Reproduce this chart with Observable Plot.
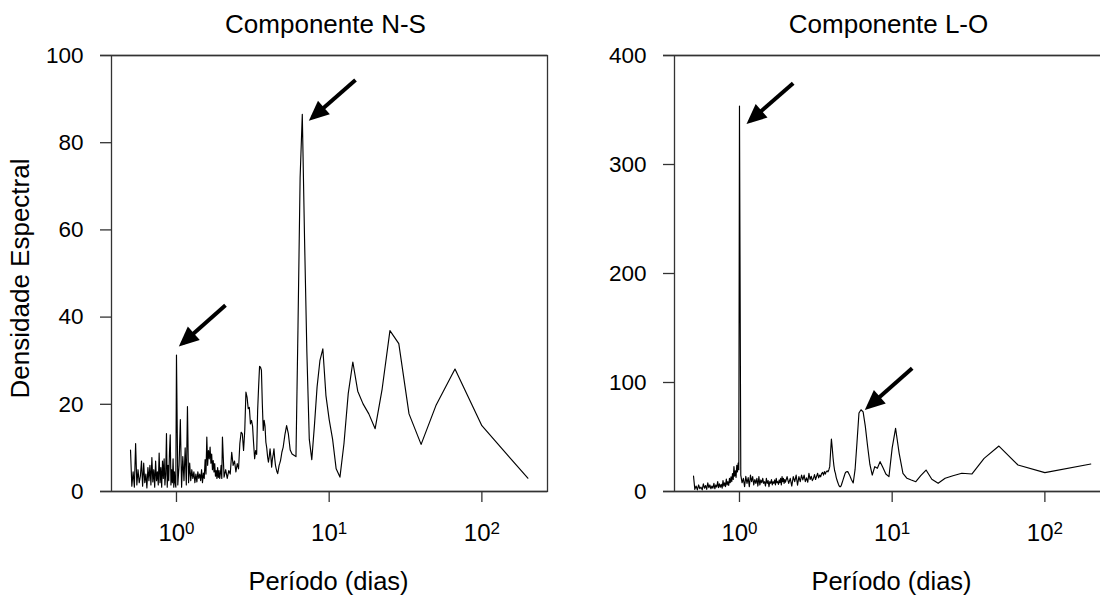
<!DOCTYPE html>
<html>
<head>
<meta charset="utf-8">
<script src="https://cdn.jsdelivr.net/npm/d3@7"></script>
<script src="https://cdn.jsdelivr.net/npm/@observablehq/plot@0.6"></script>
<style>
  html, body { margin: 0; padding: 0; background: #fff; overflow: hidden; }
  #wrap { position: relative; width: 1100px; height: 595px; overflow: hidden; background: #fff; }
  .panel { position: absolute; top: 0; width: 580px; height: 595px; }
  .panel svg { max-width: none !important; width: 580px; height: 595px; }
</style>
</head>
<body>
<div id="wrap"></div>
<script>
// Period (days) of each spectral estimate
const period = [
  0.50,0.51,0.52,0.53,0.54,0.55,0.56,0.57,0.58,0.59,
  0.60,0.61,0.62,0.63,0.64,0.65,0.66,0.67,0.68,0.69,
  0.70,0.71,0.72,0.73,0.74,0.75,0.76,0.77,0.78,0.79,
  0.80,0.81,0.82,0.83,0.84,0.85,0.86,0.87,0.88,0.89,
  0.90,0.91,0.92,0.93,0.94,0.95,0.96,0.97,0.98,0.99,
  1.00,
  1.02,1.04,1.06,1.08,1.10,1.12,1.14,1.16,1.18,1.20,
  1.22,1.24,1.26,1.28,1.30,1.32,1.34,1.36,1.38,1.40,
  1.42,1.44,1.46,1.48,1.50,1.52,1.54,1.56,1.58,1.60,
  1.62,1.64,1.66,1.68,1.70,1.72,1.74,1.76,1.78,1.80,
  1.82,1.84,1.86,1.88,1.90,1.92,1.94,1.96,1.98,2.00,
  2.05,2.10,2.15,2.20,2.25,2.30,2.35,2.40,2.45,2.50,
  2.55,2.60,2.65,2.70,2.75,2.80,2.85,2.90,2.95,3.00,
  3.05,3.10,3.15,3.20,3.25,3.30,3.35,3.40,3.45,3.50,
  3.55,3.60,3.65,3.70,3.75,3.80,3.85,3.90,3.95,4.00,
  4.05,4.10,4.15,4.20,4.25,4.30,4.35,4.40,4.45,4.50,
  4.55,4.60,4.65,4.70,4.75,4.80,4.85,4.90,4.95,5.00,
  5.128,5.263,5.405,5.556,5.714,5.882,6.061,6.25,6.452,6.667,
  6.897,7.143,7.407,7.692,8.0,8.333,8.696,9.091,9.524,10.0,
  10.526,11.111,11.765,12.5,13.333,14.286,15.385,16.667,18.182,20.0,
  22.222,25.0,28.571,33.333,40.0,50.0,66.667,100.0,200.0
];

// Componente N-S spectral density
const nsDensity = [
  9.5,1.2,4.5,1.0,11.0,1.5,5.0,2.0,3.5,7.0,
  1.2,6.5,2.0,4.0,0.8,5.5,2.5,6.0,1.5,7.8,
  2.2,5.0,1.0,7.0,2.5,4.5,1.5,8.8,2.0,5.5,
  1.0,7.0,3.0,7.5,1.5,4.0,13.3,1.0,6.0,2.5,
  9.0,13.0,1.5,5.0,2.0,7.5,1.0,4.5,2.0,1.0,
  31.3,
  1.5,6.0,16.5,1.0,8.0,2.5,10.0,1.5,19.5,2.0,
  6.5,2.5,5.0,3.0,4.5,2.0,4.0,2.2,4.5,3.0,
  4.0,2.5,5.0,2.0,4.2,3.0,7.3,4.0,12.5,6.0,
  9.4,7.5,10.2,6.5,8.6,5.0,7.1,4.5,6.4,3.5,
  4.8,3.0,5.5,3.2,4.8,3.0,4.2,6.0,3.0,12.5,
  3.3,5.0,3.0,4.8,4.0,9.0,6.0,7.0,4.5,6.4,
  5.2,11.0,13.6,13.2,9.4,14.0,22.8,21.6,19.0,19.3,
  15.5,16.3,15.0,11.0,7.5,9.4,8.5,18.6,24.0,28.7,
  28.5,27.8,20.0,14.0,16.3,15.0,11.3,10.0,8.0,6.7,
  8.0,9.8,8.0,5.6,7.5,8.5,9.8,7.5,6.0,5.2,
  4.5,4.1,5.0,6.0,6.5,7.1,8.0,9.0,9.6,10.2,
  13.0,15.1,13.2,9.5,8.6,8.3,8.0,38,72,86.5,
  58,32,12,7.3,15,24,30,32.7,22,16.5,
  12,5.2,3.3,11,22.5,29.7,23,20.1,17.8,14.4,
  23.5,36.9,33.9,17.8,10.8,19.7,28.1,15.1,3.05
];

// Componente L-O spectral density
const loDensity = [
  14.2,2.0,5.0,1.5,6.0,2.5,4.0,1.5,7.0,3.0,
  5.5,2.0,8.0,3.5,6.0,2.5,5.0,3.0,7.5,2.5,
  6.0,4.0,9.0,3.5,7.0,4.0,6.5,3.0,10.0,5.0,
  8.0,4.5,11.5,6.0,9.0,5.5,12.0,8.0,13.5,9.0,
  16.5,11.0,22.8,14.0,19.0,13.0,24.0,18.0,26.0,20.0,
  353.7,
  15.0,8.0,12.0,4.5,14.0,7.5,12.7,4.5,15.0,9.0,
  13.6,6.0,11.0,7.5,12.0,5.0,13.6,6.0,10.6,8.0,
  12.0,7.5,9.0,5.0,12.1,7.5,10.0,4.4,9.0,7.5,
  11.0,6.0,9.0,7.5,10.6,6.0,12.0,8.0,9.0,6.5,
  10.6,8.0,12.0,6.0,13.6,9.0,12.0,7.5,11.0,8.5,
  13.6,7.5,12.0,5.0,13.6,9.0,15.1,5.9,13.6,9.0,
  15.0,10.6,15.1,9.0,12.5,8.5,16.7,11.0,14.0,10.0,
  12.0,15.5,11.0,14.0,16.7,12.5,15.0,13.5,16.5,17.5,
  15.0,18.2,16.0,18.2,19.0,18.0,20.0,22.8,36.0,48.2,
  40.0,31.0,24.0,19.0,16.7,13.0,10.5,8.5,6.5,5.0,
  4.4,4.5,6.0,8.0,10.0,12.0,14.0,16.0,17.5,18.0,
  18.2,15,11,7.8,20,45,72,75,73,60,
  42,25,15.1,22.8,21.3,27.4,22,16,13.6,40,
  58,35,16.7,12.1,10.5,9.0,14.5,19.7,11.2,7.5,
  12.1,14.5,16.7,16.1,30.4,41.7,24.3,17.3,25.2
];

const xTicks = [1, 10, 100];
const xDomain = [0.318, 269];
const nsYDomain = [0, 100];
const loYDomain = [0, 400];
const nsYTicks = [0, 20, 40, 60, 80, 100];
const loYTicks = [0, 100, 200, 300, 400];

// Annotation arrows (tail -> head), in data units
const nsArrows = [
  {x1: 2.094, y1: 42.7, x2: 1.096, y2: 34.0},
  {x1: 14.87, y1: 94.4, x2: 7.79, y2: 85.8}
];
const loArrows = [
  {x1: 2.247, y1: 374.5, x2: 1.177, y2: 340.2},
  {x1: 13.52, y1: 113.0, x2: 7.005, y2: 77.8}
];

const titles = ["Componente N-S", "Componente L-O"];
const xLabel = "Período (dias)";
const yLabel = "Densidade Espectral";

const FONT = "'Liberation Sans', Arial, Helvetica, sans-serif";
const AX = "#333";

function panel({density, yDomain, yTicks, arrows, title, yLabelText, id}) {
  const data = period.map((p, i) => ({period: p, value: density[i]}));
  const marks = [
    Plot.frame({insetLeft: 11, stroke: AX, strokeWidth: 1.3}),
    Plot.ruleY(yDomain, {y: d => d, stroke: AX, strokeWidth: 1.3}),
    // y ticks (outside, between x=frame-left and the offset y-axis line)
    Plot.tickY(yTicks, {y: d => d, insetRight: 436, stroke: AX, strokeWidth: 1.3}),
    Plot.text(yTicks, {y: d => d, text: d => String(d), frameAnchor: "left", dx: -17,
      textAnchor: "end", lineAnchor: "middle", fontSize: 22.5, fill: "#000"}),
    // x ticks below the bottom axis
    Plot.tickX(xTicks, {x: d => d, insetTop: 436, insetBottom: -11, stroke: AX, strokeWidth: 1.3}),
    Plot.text(xTicks, {x: d => d, text: d => "10^" + Math.round(Math.log10(d)),
      frameAnchor: "bottom", dy: 49, textAnchor: "middle", lineAnchor: "bottom",
      fontSize: 24, fill: "#000"}),
    Plot.line(data, {x: "period", y: "value", stroke: "#000", strokeWidth: 1.15}),
    Plot.link(arrows, {x1: "x1", y1: "y1", x2: "x2", y2: "y2", stroke: "#000", strokeWidth: 4}),
    Plot.text([title], {text: d => d, frameAnchor: "top", dx: 1.5, dy: -23,
      textAnchor: "middle", lineAnchor: "bottom", fontSize: 26, letterSpacing: "0.9px", fill: "#000"}),
    Plot.text([xLabel], {text: d => d, frameAnchor: "bottom", dx: 4.5, dy: 98,
      textAnchor: "middle", lineAnchor: "bottom", fontSize: 25.5, fill: "#000"})
  ];
  if (yLabelText) {
    marks.push(Plot.text([yLabelText], {text: d => d, frameAnchor: "left", rotate: -90,
      dx: -72, dy: 5, textAnchor: "middle", lineAnchor: "bottom", fontSize: 26,
      letterSpacing: "0.8px", fill: "#000"}));
  }
  const svg = Plot.plot({
    width: 580, height: 595,
    marginLeft: 100, marginRight: 33, marginTop: 55, marginBottom: 104,
    x: {type: "log", domain: xDomain, axis: null},
    y: {domain: yDomain, axis: null},
    style: {fontFamily: FONT, color: "#000", background: "transparent", overflow: "visible"},
    marks
  });
  const s = d3.select(svg);
  // superscript exponents on the log tick labels
  s.selectAll("text").each(function () {
    if (this.childElementCount > 0) return;
    const parts = this.textContent.split("^");
    if (parts.length === 2) {
      this.textContent = "";
      const t = d3.select(this);
      t.append("tspan").text(parts[0]);
      t.append("tspan").attr("dy", "-0.4em").attr("font-size", "17px").text(parts[1]);
    }
  });
  // filled arrow heads
  const defs = s.insert("defs", ":first-child");
  defs.append("marker")
    .attr("id", "head-" + id)
    .attr("viewBox", "-16 -10 22 20")
    .attr("refX", 0).attr("refY", 0)
    .attr("markerWidth", 22).attr("markerHeight", 20)
    .attr("markerUnits", "userSpaceOnUse")
    .attr("orient", "auto")
    .append("path").attr("d", "M5,0L-15,-9L-15,9Z").attr("fill", "#000");
  s.selectAll('g[aria-label="link"] path').attr("marker-end", `url(#head-${id})`);
  return svg;
}

const wrap = document.getElementById("wrap");
const left = document.createElement("div");
left.className = "panel"; left.style.left = "0px";
left.appendChild(panel({density: nsDensity, yDomain: nsYDomain, yTicks: nsYTicks,
  arrows: nsArrows, title: titles[0], yLabelText: yLabel, id: "ns"}));
const right = document.createElement("div");
right.className = "panel"; right.style.left = "563px";
right.appendChild(panel({density: loDensity, yDomain: loYDomain, yTicks: loYTicks,
  arrows: loArrows, title: titles[1], yLabelText: null, id: "lo"}));
wrap.appendChild(left);
wrap.appendChild(right);
</script>
</body>
</html>
